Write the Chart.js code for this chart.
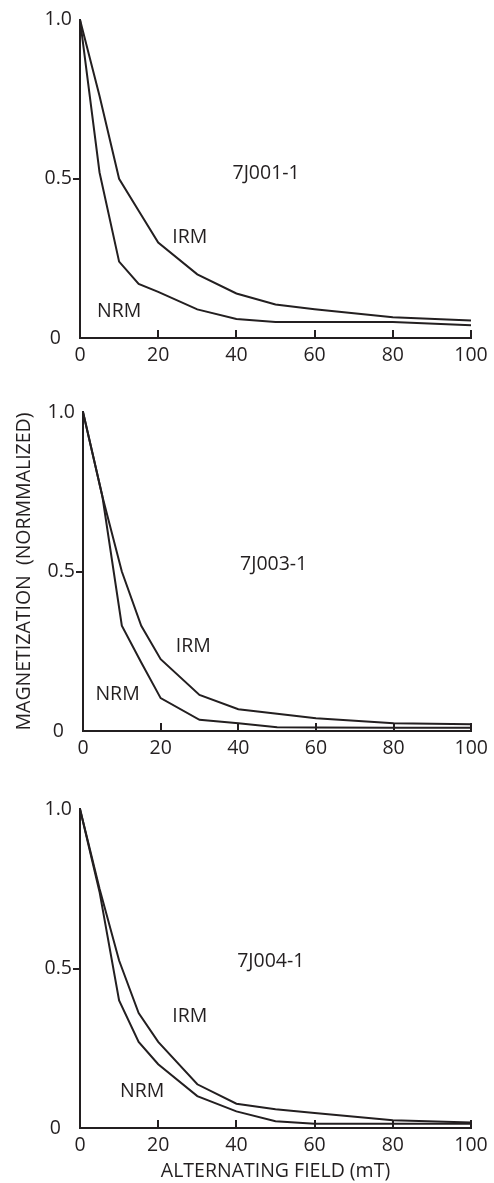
<!DOCTYPE html>
<html>
<head>
<meta charset="utf-8">
<script src="https://cdn.jsdelivr.net/npm/chart.js@4/dist/chart.umd.min.js"></script>
<style>
  html, body { margin: 0; padding: 0; background: #fff; }
  #wrap { position: relative; width: 494px; height: 1183px; }
  .panel { position: absolute; left: 0; width: 494px; }
</style>
</head>
<body>
<div id="wrap">
  <canvas id="panel1" class="panel" style="top:0px;height:375px" width="494" height="375"></canvas>
  <canvas id="panel2" class="panel" style="top:375px;height:390px" width="494" height="390"></canvas>
  <canvas id="panel3" class="panel" style="top:765px;height:418px" width="494" height="418"></canvas>
</div>
<script>
// AF demagnetization steps (mT)
const fieldSteps = [0, 5, 10, 15, 20, 30, 40, 50, 60, 80, 100];

// normalized remanence for each sample
const irm7J001 = [1.0, 0.76, 0.50, 0.40, 0.30, 0.20, 0.14, 0.105, 0.09, 0.065, 0.055];
const nrm7J001 = [1.0, 0.52, 0.24, 0.17, 0.145, 0.09, 0.06, 0.05, 0.05, 0.05, 0.04];

const irm7J003 = [1.0, 0.735, 0.50, 0.33, 0.225, 0.113, 0.068, 0.054, 0.04, 0.024, 0.021];
const nrm7J003 = [1.0, 0.735, 0.33, 0.215, 0.103, 0.035, 0.024, 0.012, 0.011, 0.01, 0.01];

const irm7J004 = [1.0, 0.75, 0.525, 0.36, 0.27, 0.137, 0.076, 0.059, 0.047, 0.024, 0.017];
const nrm7J004 = [1.0, 0.74, 0.40, 0.27, 0.20, 0.10, 0.052, 0.021, 0.013, 0.013, 0.013];

// axis ticks
const xTicks = [0, 20, 40, 60, 80, 100];
const yTicks = [0, 0.5, 1.0];
const yTickLabels = ['0\u2007', '0.5', '1.0'];   // the zero sits a digit further out

// text labels on each plot: [text, field, magnetization]
const notes7J001 = [['7J001-1', 47.6, 0.517], ['IRM', 28.1, 0.316], ['NRM', 10.0, 0.084]];
const notes7J003 = [['7J003-1', 49.1, 0.521], ['IRM', 28.4, 0.264], ['NRM', 8.9, 0.116]];
const notes7J004 = [['7J004-1', 48.8, 0.521], ['IRM', 28.1, 0.350], ['NRM', 15.9, 0.116]];

const INK = '#231f20';
const FONT = "'Open Sans', 'DejaVu Sans', sans-serif";
const TEXT_SIZE = 19.5;

Chart.defaults.font.family = FONT;
Chart.defaults.font.size = TEXT_SIZE;
Chart.defaults.color = INK;

const toPoints = (vals) => fieldSteps.map((f, i) => ({ x: f, y: vals[i] }));

// inward x ticks, outward tick at 0.5 on y, and the sample / curve labels
const panelExtras = {
    id: 'panelExtras',
    afterDraw(chart, args, opts) {
        const { ctx, chartArea } = chart;
        const xs = chart.scales.x, ys = chart.scales.y;
        ctx.save();
        ctx.strokeStyle = INK;
        ctx.lineWidth = 2;
        ctx.beginPath();
        xTicks.slice(1).forEach(v => {
            const px = Math.round(xs.getPixelForValue(v));
            ctx.moveTo(px, chartArea.bottom);
            ctx.lineTo(px, chartArea.bottom - 8);
        });
        const py = Math.round(ys.getPixelForValue(0.5));
        ctx.moveTo(chartArea.left, py);
        ctx.lineTo(chartArea.left - 7, py);
        ctx.stroke();

        ctx.fillStyle = INK;
        ctx.font = TEXT_SIZE + 'px ' + FONT;
        ctx.textAlign = 'center';
        ctx.textBaseline = 'middle';
        (opts.notes || []).forEach(([txt, fx, my]) => {
            ctx.fillText(txt, xs.getPixelForValue(fx), ys.getPixelForValue(my));
        });
        ctx.restore();
    }
};

function makePanel(id, irm, nrm, notes, box) {
    const line = (label, vals) => ({
        label,
        data: toPoints(vals),
        borderColor: INK,
        borderWidth: 2,
        pointRadius: 0,
        tension: 0,
        fill: false,
        clip: false,
    });

    return new Chart(document.getElementById(id), {
        type: 'line',
        data: { datasets: [line('IRM', irm), line('NRM', nrm)] },
        plugins: [panelExtras],
        options: {
            responsive: false,
            animation: false,
            layout: { padding: box.padding },
            plugins: {
                legend: { display: false },
                tooltip: { enabled: false },
                panelExtras: { notes },
            },
            scales: {
                x: {
                    type: 'linear',
                    min: 0,
                    max: 100,
                    afterBuildTicks: (s) => { s.ticks = xTicks.map(v => ({ value: v })); },
                    afterFit: (s) => { s.height = box.xHeight; },
                    grid: { display: false, drawTicks: false },
                    border: { display: true, color: INK, width: 2 },
                    ticks: { padding: 6, maxRotation: 0, color: INK },
                    title: {
                        display: !!box.xTitle,
                        text: box.xTitle || '',
                        color: INK,
                        padding: { top: 0, bottom: 0 },
                    },
                },
                y: {
                    type: 'linear',
                    min: 0,
                    max: 1,
                    afterBuildTicks: (s) => { s.ticks = yTicks.map(v => ({ value: v })); },
                    afterFit: (s) => { s.width = box.yWidth; },
                    grid: { display: false, drawTicks: false },
                    border: { display: true, color: INK, width: 2 },
                    ticks: {
                        padding: 8,
                        color: INK,
                        callback: (v) => yTickLabels[yTicks.indexOf(v)],
                    },
                    title: {
                        display: !!box.yTitle,
                        text: box.yTitle || '',
                        color: INK,
                        padding: { top: 13, bottom: 0 },
                    },
                },
            },
        },
    });
}

makePanel('panel1', irm7J001, nrm7J001, notes7J001, {
    padding: { top: 19, right: 23, bottom: 0, left: 0 }, yWidth: 80, xHeight: 37,
});
makePanel('panel2', irm7J003, nrm7J003, notes7J003, {
    padding: { top: 37, right: 20, bottom: 0, left: 0 }, yWidth: 83, xHeight: 34,
    yTitle: 'MAGNETIZATION  (NORMMALIZED)',
});
makePanel('panel3', irm7J004, nrm7J004, notes7J004, {
    padding: { top: 44, right: 23, bottom: 0, left: 0 }, yWidth: 80, xHeight: 55,
    xTitle: 'ALTERNATING FIELD (mT)',
});
</script>
</body>
</html>
